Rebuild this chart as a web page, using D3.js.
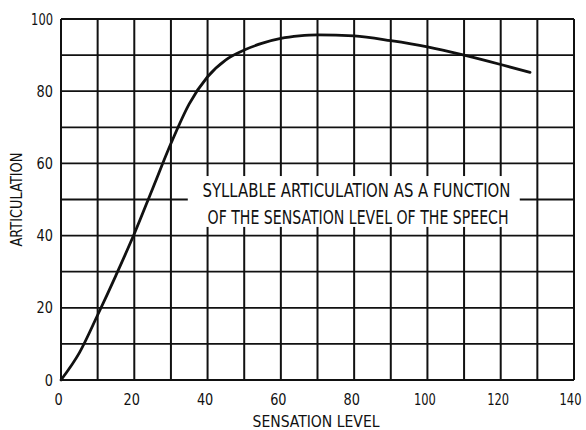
<!DOCTYPE html>
<html>
<head>
<meta charset="utf-8">
<script src="https://cdn.jsdelivr.net/npm/d3@7"></script>
<style>
  body { margin: 0; background: #fff; }
  svg text { font-family: "Liberation Sans Narrow", "DejaVu Sans Condensed", "Liberation Sans", sans-serif; fill: #111; }
</style>
</head>
<body>
<svg id="chart" width="586" height="430"></svg>
<script>
// curve
var sensationLevel = [0, 5, 10, 15, 20, 25, 30, 35, 40, 45, 50, 55, 60, 65, 70, 80, 90, 100, 110, 120, 128];
var articulation   = [0, 7.5, 18, 29, 40.5, 53, 65.5, 76.5, 84, 88.7, 91.4, 93.3, 94.6, 95.3, 95.6, 95.3, 94, 92.3, 90, 87.4, 85.2];

var xTickLabels = [0, 20, 40, 60, 80, 100, 120, 140];
var yTickLabels = [0, 20, 40, 60, 80, 100];
var gridX = d3.range(0, 141, 10);
var gridY = d3.range(0, 101, 10);

var noteLines = ["SYLLABLE ARTICULATION AS A FUNCTION", "OF THE SENSATION LEVEL OF THE SPEECH"];

var margin = {left: 61, top: 19, right: 12, bottom: 50};
var width = 586 - margin.left - margin.right;
var height = 430 - margin.top - margin.bottom;
var ink = '#111';

// narrow numerals like the plate
function numWidth(s) {
  var w = 0;
  for (var i = 0; i < s.length; i++) w += s[i] == '1' ? 5.5 : 8.2;
  return w;
}

var svg = d3.select('#chart');
var g = svg.append('g')
  .attr('transform', 'translate(' + [margin.left, margin.top] + ')');

var x = d3.scaleLinear().domain([0, 140]).range([0, width]);
var y = d3.scaleLinear().domain([0, 100]).range([height, 0]);

// grid
g.selectAll('.vgrid')
  .data(gridX)
  .enter()
  .append('line')
  .attr('x1', function(d) { return x(d); })
  .attr('x2', function(d) { return x(d); })
  .attr('y1', 0)
  .attr('y2', height)
  .style('stroke', ink)
  .style('stroke-width', 2);

g.selectAll('.hgrid')
  .data(gridY)
  .enter()
  .append('line')
  .attr('x1', 0)
  .attr('x2', width)
  .attr('y1', function(d) { return y(d); })
  .attr('y2', function(d) { return y(d); })
  .style('stroke', ink)
  .style('stroke-width', 1.8);

// white label box over the grid
var box = {x0: 34.6, x1: 125.2, y0: 42.4, y1: 56.5};
g.append('rect')
  .attr('x', x(box.x0))
  .attr('y', y(box.y1))
  .attr('width', x(box.x1) - x(box.x0))
  .attr('height', y(box.y0) - y(box.y1))
  .style('fill', '#fff');

g.selectAll('.note')
  .data(noteLines)
  .enter()
  .append('text')
  .attr('x', function(d, i) { return i == 0 ? x(38.6) : x(40); })
  .attr('y', function(d, i) { return y(box.y1) + 21 + i * 27; })
  .attr('textLength', function(d, i) { return i == 0 ? 308 : 301; })
  .attr('lengthAdjust', 'spacingAndGlyphs')
  .style('font-size', '19px')
  .text(function(d) { return d; });

// curve
var line = d3.line()
  .x(function(d) { return x(d[0]); })
  .y(function(d) { return y(d[1]); })
  .curve(d3.curveMonotoneX);

g.append('path')
  .datum(d3.zip(sensationLevel, articulation))
  .attr('d', line)
  .style('fill', 'none')
  .style('stroke', ink)
  .style('stroke-width', 2.8)
  .style('stroke-linecap', 'round');

// axes (labels only, grid does the lines)
var xAxis = g.append('g')
  .attr('transform', 'translate(0,' + height + ')')
  .call(d3.axisBottom(x).tickValues(xTickLabels).tickSize(0).tickPadding(14));
xAxis.select('.domain').remove();
xAxis.selectAll('text')
  .style('font-size', '16px')
  .style('fill', ink)
  .attr('dx', function(d) { return d == 140 ? -4 : -3; })
  .attr('textLength', function(d) { return numWidth(String(d)); })
  .attr('lengthAdjust', 'spacingAndGlyphs');

var yAxis = g.append('g')
  .call(d3.axisLeft(y).tickValues(yTickLabels).tickSize(0).tickPadding(8));
yAxis.select('.domain').remove();
yAxis.selectAll('text')
  .style('font-size', '16px')
  .style('fill', ink)
  .attr('textLength', function(d) { return numWidth(String(d)); })
  .attr('lengthAdjust', 'spacingAndGlyphs');

svg.append('text')
  .attr('x', 316)
  .attr('y', 427)
  .attr('text-anchor', 'middle')
  .attr('textLength', 127)
  .attr('lengthAdjust', 'spacingAndGlyphs')
  .style('font-size', '16px')
  .text('SENSATION LEVEL');

svg.append('text')
  .attr('transform', 'translate(22,' + (margin.top + height / 2) + ')rotate(-90)')
  .attr('text-anchor', 'middle')
  .attr('textLength', 94)
  .attr('lengthAdjust', 'spacingAndGlyphs')
  .style('font-size', '15px')
  .text('ARTICULATION');
</script>
</body>
</html>
